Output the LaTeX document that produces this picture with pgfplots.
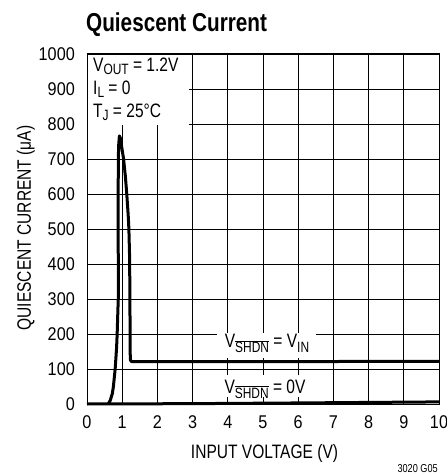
\documentclass[border=0pt]{standalone}
\usepackage{fontspec}
\setmainfont{Liberation Sans}[FakeStretch=0.8]
\newfontfamily\tickfont{Liberation Sans}[FakeStretch=0.88]
\usepackage{pgfplots}
\pgfplotsset{compat=1.18}
\newcommand\sub[1]{\raisebox{-3bp}{\fontsize{15}{15}\selectfont #1}}
\newcommand\ssub[1]{\raisebox{-5bp}{\fontsize{15}{15}\selectfont #1}}
\newcommand\osub[1]{\raisebox{-5bp}{\fontsize{15}{15}\selectfont$\overline{\hbox{#1}}$}}
\newcommand\tk[1]{\hbox{\tickfont\fontsize{18.5}{18.5}\selectfont\vphantom{0}#1}}
\pgfplotstableread{
x y
0.60 0
0.66 10
0.72 30
0.75 50
0.80 100
0.84 160
0.857 200
0.875 260
0.888 300
0.889 400
0.885 500
0.886 600
0.89 700
0.90 740
0.92 766
0.95 760
1.00 725
1.04 700
1.09 650
1.13 600
1.17 540
1.19 500
1.21 420
1.22 300
1.225 150
1.235 125
1.27 121
2 121
5 121
10 122
}\shdnvin
\pgfplotstableread{
x y
0 0
3 1
6 3
10 6
}\shdnzero
\begin{document}
\begin{tikzpicture}
\useasboundingbox (-87bp,-72bp) rectangle (360bp,404bp);
\begin{axis}[
 at={(0,0)}, anchor=south west, scale only axis, width=352bp, height=350bp,
 xmin=0, xmax=10, ymin=0, ymax=1000,
 xtick={0,1,...,10}, ytick={0,100,...,1000},
 xticklabels={\tk{0},\tk{1},\tk{2},\tk{3},\tk{4},\tk{5},\tk{6},\tk{7},\tk{8},\tk{9},\tk{10}},
 yticklabels={\tk{0},\tk{100},\tk{200},\tk{300},\tk{400},\tk{500},\tk{600},\tk{700},\tk{800},\tk{900},\tk{1000}},
 grid=major, major grid style={black, line width=0.75bp},
 axis line style={black, line width=1bp},
 major tick length=0pt,
 xticklabel style={inner sep=0pt, yshift=-11bp},
 yticklabel style={inner sep=0pt, xshift=-12bp},
 clip=false,
]
\fill[white] (axis cs:0.04,996) rectangle (axis cs:2.9,797);
\fill[white] (axis cs:3.7,131) rectangle (axis cs:6.5,203);
\fill[white] (axis cs:3.7,20) rectangle (axis cs:6.4,83);
\addplot[black, line width=3bp, line join=round] table {\shdnvin};
\addplot[black, line width=3bp] table {\shdnzero};
\end{axis}
\begin{scope}[font=\fontsize{19.5}{19.5}\selectfont]
\node[anchor=base west, inner sep=0] at (6bp,332bp) {V\sub{OUT} = 1.2V};
\node[anchor=base west, inner sep=0] at (6bp,309bp) {I\sub{L} = 0};
\node[anchor=base west, inner sep=0] at (6bp,286bp) {T\sub{J} = 25°C};
\node[anchor=base, inner sep=0] at (180bp,56bp) {V\osub{SHDN} = V\ssub{IN}};
\node[anchor=base, inner sep=0] at (178bp,11bp) {V\osub{SHDN} = 0V};
\node[anchor=base, inner sep=0] at (177.5bp,-54bp) {INPUT VOLTAGE (V)};
\node[anchor=base, rotate=90, inner sep=0] at (-56bp,176bp) {QUIESCENT CURRENT (μA)};
\end{scope}
\node[anchor=base west, inner sep=0, font=\bfseries\fontsize{26}{26}\selectfont] at (-1bp,372bp) {Quiescent Current};
\node[anchor=base east, inner sep=0, font=\fontsize{11.5}{11.5}\selectfont] at (351bp,-68bp) {3020 G05};
\end{tikzpicture}
\end{document}
